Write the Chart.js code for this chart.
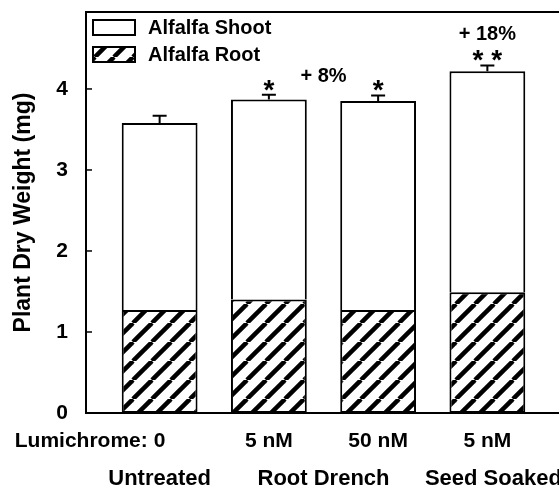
<!DOCTYPE html>
<html lang="en">
<head>
  <meta charset="UTF-8" />
  <title>Alfalfa dry weight - lumichrome</title>
  <script src="https://cdn.jsdelivr.net/npm/chart.js"></script>
  <style>
    html, body { margin: 0; padding: 0; background: #fff; overflow: hidden; }
    .grafico { width: 600px; height: 493px; }
  </style>
</head>
<body>
  <div class="grafico">
    <canvas id="grafico" width="600" height="493"></canvas>
  </div>

  <script>
    const doses = ['0', '5 nM', '50 nM', '5 nM'];
    const doseTitle = 'Lumichrome:';
    const treatments = ['Untreated', 'Root Drench', 'Seed Soaked'];
    const treatmentOfBar = [0, 1, 1, 2];
    const rootWeight = [1.27, 1.40, 1.27, 1.49];
    const totalWeight = [3.58, 3.87, 3.85, 4.22];
    const totalError = [0.09, 0.06, 0.07, 0.07];
    const significance = ['', '*', '*', '* *'];
    const gainByTreatment = ['', '+ 8%', '+ 18%'];
    const yTicks = [0, 1, 2, 3, 4];

    const FONT = "'Liberation Sans', Arial, Helvetica, sans-serif";

    // diagonal "/" hatching for the root part
    function hachura() {
      const s = 19;
      const c = document.createElement('canvas');
      c.width = s; c.height = s;
      const g = c.getContext('2d');
      g.fillStyle = '#fff';
      g.fillRect(0, 0, s, s);
      g.strokeStyle = '#000';
      g.lineWidth = 4.5;
      for (let k = -1; k <= 1; k++) {
        g.beginPath();
        g.moveTo(k * s, s);
        g.lineTo(k * s + s, 0);
        g.stroke();
      }
      return g.createPattern(c, 'repeat');
    }

    function barsOf(t) {
      return treatmentOfBar.map((tt, i) => tt === t ? i : -1).filter(i => i >= 0);
    }

    // frame, legend, error bars, stars, x labels
    const extras = {
      id: 'extras',
      afterDatasetsDraw(chart) {
        const ctx = chart.ctx;
        const a = chart.chartArea;
        const x = chart.scales.x;
        const y = chart.scales.y;
        ctx.save();
        ctx.strokeStyle = '#000';
        ctx.fillStyle = '#000';

        ctx.lineWidth = 2;
        ctx.strokeRect(a.left, a.top, a.right - a.left, a.bottom - a.top);

        // inward ticks
        ctx.lineWidth = 1.5;
        yTicks.forEach(v => {
          if (v === 0) return;
          const py = y.getPixelForValue(v);
          ctx.beginPath();
          ctx.moveTo(a.left, py);
          ctx.lineTo(a.left + 6, py);
          ctx.stroke();
        });

        // legend, shoot on top
        ctx.font = 'bold 20px ' + FONT;
        ctx.textAlign = 'left';
        ctx.textBaseline = 'middle';
        chart.data.datasets.slice().reverse().forEach((ds, k) => {
          const bx = a.left + 7, by = a.top + 8 + k * 27;
          ctx.fillStyle = ds.backgroundColor;
          ctx.fillRect(bx, by, 42, 15);
          ctx.lineWidth = 2;
          ctx.strokeRect(bx, by, 42, 15);
          ctx.fillStyle = '#000';
          ctx.fillText(ds.label, bx + 55, by + 8);
        });

        // error bars (upper only)
        const caps = [];
        ctx.lineWidth = 2;
        totalWeight.forEach((v, i) => {
          const px = x.getPixelForValue(i);
          const top = y.getPixelForValue(v);
          const cap = y.getPixelForValue(v + totalError[i]);
          caps.push(cap);
          ctx.beginPath();
          ctx.moveTo(px, top);
          ctx.lineTo(px, cap);
          ctx.moveTo(px - 7, cap);
          ctx.lineTo(px + 7, cap);
          ctx.stroke();
        });

        // significance stars
        ctx.textAlign = 'center';
        ctx.textBaseline = 'alphabetic';
        ctx.font = 'bold 28px ' + FONT;
        significance.forEach((s, i) => {
          if (s) ctx.fillText(s, x.getPixelForValue(i), caps[i] + 4);
        });

        // percent gains per treatment
        ctx.font = 'bold 20px ' + FONT;
        ctx.textBaseline = 'middle';
        gainByTreatment.forEach((g, t) => {
          if (!g) return;
          const idx = barsOf(t);
          const cx = idx.reduce((s, i) => s + x.getPixelForValue(i), 0) / idx.length;
          const top = Math.min(...idx.map(i => caps[i]));
          ctx.fillText(g, cx, top - (idx.length > 1 ? 18 : 31));
        });

        // dose row
        ctx.font = 'bold 21px ' + FONT;
        doses.forEach((d, i) => ctx.fillText(d, x.getPixelForValue(i), a.bottom + 28));
        ctx.textAlign = 'right';
        const w0 = ctx.measureText(doses[0]).width;
        ctx.fillText(doseTitle, x.getPixelForValue(0) - w0 / 2 - 6, a.bottom + 28);

        // treatment row
        ctx.textAlign = 'center';
        ctx.font = 'bold 22px ' + FONT;
        treatments.forEach((t, k) => {
          const idx = barsOf(k);
          const cx = idx.reduce((s, i) => s + x.getPixelForValue(i), 0) / idx.length;
          ctx.fillText(t, cx + (idx.length === 1 && k > 0 ? 6 : 0), a.bottom + 66);
        });
        ctx.restore();
      }
    };

    const ctx = document.getElementById('grafico');
    const grafico = new Chart(ctx, {
      type: 'bar',
      data: {
        datasets: [
          {
            label: 'Alfalfa Root',
            data: rootWeight.map((v, i) => ({ x: i, y: v })),
            backgroundColor: hachura(),
            borderColor: '#000',
            borderWidth: 2,
            borderSkipped: false,
            barPercentage: 0.694,
            categoryPercentage: 1
          },
          {
            label: 'Alfalfa Shoot',
            data: totalWeight.map((v, i) => ({ x: i, y: v - rootWeight[i] })),
            backgroundColor: '#fff',
            borderColor: '#000',
            borderWidth: 2,
            borderSkipped: 'bottom',
            barPercentage: 0.694,
            categoryPercentage: 1
          }
        ]
      },
      options: {
        responsive: false,
        animation: false,
        layout: { padding: { top: 12, right: 39, bottom: 80, left: 0 } },
        scales: {
          x: {
            type: 'linear', min: -0.674, max: 3.674, offset: false, stacked: true, display: false,
            afterBuildTicks: s => { s.ticks = doses.map((d, i) => ({ value: i })); }
          },
          y: {
            stacked: true,
            min: 0,
            max: 4.95,
            afterFit: s => { s.width = 86; s.paddingTop = 0; s.paddingBottom = 0; },
            afterBuildTicks: s => { s.ticks = yTicks.map(v => ({ value: v })); },
            grid: { display: false, drawTicks: false },
            border: { display: false },
            ticks: { padding: 18, color: '#000', font: { family: FONT, size: 21, weight: 'bold' } },
            title: {
              display: true,
              text: 'Plant Dry Weight (mg)',
              color: '#000',
              padding: { top: 10, bottom: 0 },
              font: { family: FONT, size: 23, weight: 'bold' }
            }
          }
        },
        plugins: {
          legend: { display: false },
          tooltip: { enabled: false }
        }
      },
      plugins: [extras]
    });
  </script>
</body>
</html>
